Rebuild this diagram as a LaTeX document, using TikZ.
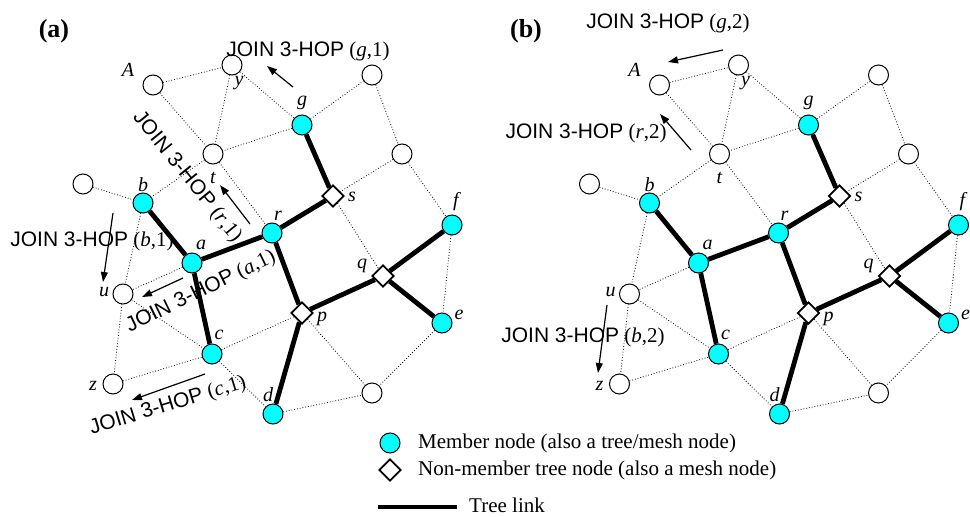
\documentclass[tikz,border=0pt]{standalone}
\usepackage{fontspec}
\setmainfont{Liberation Serif}
\newfontfamily\sfj{Liberation Sans}
\usetikzlibrary{shapes.geometric,arrows.meta}
\definecolor{memcyan}{RGB}{0,255,255}
\begin{document}
\begin{tikzpicture}[x=1pt,y=-1pt,
 mem/.style={circle,draw,fill=memcyan,minimum size=20pt,inner sep=0pt,line width=1pt},
 oth/.style={circle,draw,fill=white,minimum size=20pt,inner sep=0pt,line width=1pt},
 ntn/.style={diamond,draw,fill=white,minimum size=22pt,inner sep=0pt,line width=1.7pt},
 mesh/.style={dotted,line width=0.8pt},
 tree/.style={line width=4.8pt},
 lab/.style={font=\fontsize{20}{20}\selectfont\itshape,inner sep=0pt},
 joinmsg/.style={font=\fontsize{21}{21}\selectfont,inner sep=0pt},
 jarr/.style={line width=1.2pt,-{Triangle[length=10pt,width=7pt]}},
 legtext/.style={font=\fontsize{21}{21}\selectfont,inner sep=0pt,anchor=west},
 panel/.style={font=\fontsize{26}{26}\selectfont\bfseries,inner sep=0pt},
]
\useasboundingbox (0,0) rectangle (970,517);
\foreach \P/\dx in {L/0,R/506.5}{
\begin{scope}[xshift=\dx pt]
 \node[oth] (\P A) at (153,85) {};
 \node[oth] (\P y) at (232,65) {};
 \node[oth] (\P TR) at (372,75) {};
 \node[mem] (\P g) at (302,125) {};
 \node[oth] (\P t) at (213,154) {};
 \node[oth] (\P MR) at (402,154) {};
 \node[oth] (\P L) at (83,184) {};
 \node[mem] (\P b) at (143,203) {};
 \node[ntn] (\P s) at (333,196) {};
 \node[mem] (\P f) at (452,225) {};
 \node[mem] (\P r) at (272,233) {};
 \node[mem] (\P a) at (192,263) {};
 \node[ntn] (\P q) at (383,276) {};
 \node[oth] (\P u) at (123,294) {};
 \node[ntn] (\P p) at (302,313) {};
 \node[mem] (\P e) at (442,323) {};
 \node[mem] (\P c) at (212,354) {};
 \node[oth] (\P z) at (113,384) {};
 \node[oth] (\P BR) at (372,393) {};
 \node[mem] (\P d) at (273,414) {};
 % mesh links
 \draw[mesh] (\P A) -- (\P y);
 \draw[mesh] (\P A) -- (\P t);
 \draw[mesh] (\P y) -- (\P t);
 \draw[mesh] (\P y) -- (\P g);
 \draw[mesh] (\P g) -- (\P TR);
 \draw[mesh] (\P g) -- (\P t);
 \draw[mesh] (\P TR) -- (\P MR);
 \draw[mesh] (\P MR) -- (\P s);
 \draw[mesh] (\P MR) -- (\P f);
 \draw[mesh] (\P t) -- (\P b);
 \draw[mesh] (\P t) -- (\P r);
 \draw[mesh] (\P L) -- (\P b);
 \draw[mesh] (\P b) -- (\P u);
 \draw[mesh] (\P a) -- (\P u);
 \draw[mesh] (\P u) -- (\P c);
 \draw[mesh] (\P u) -- (\P z);
 \draw[mesh] (\P z) -- (\P c);
 \draw[mesh] (\P c) -- (\P p);
 \draw[mesh] (\P c) -- (\P d);
 \draw[mesh] (\P s) -- (\P q);
 \draw[mesh] (\P f) -- (\P e);
 \draw[mesh] (\P p) -- (\P BR);
 \draw[mesh] (\P e) -- (\P BR);
 \draw[mesh] (\P d) -- (\P BR);
 % tree links
 \draw[tree] (\P g) -- (\P s);
 \draw[tree] (\P s) -- (\P r);
 \draw[tree] (\P r) -- (\P a);
 \draw[tree] (\P a) -- (\P b);
 \draw[tree] (\P a) -- (\P c);
 \draw[tree] (\P r) -- (\P p);
 \draw[tree] (\P p) -- (\P d);
 \draw[tree] (\P p) -- (\P q);
 \draw[tree] (\P q) -- (\P f);
 \draw[tree] (\P q) -- (\P e);
 % node labels
 \path (\P A) ++(-25,-15) node[lab] {A};
 \path (\P y) ++(7,18) node[lab] {y};
 \path (\P g) ++(0,-22) node[lab] {g};
 \path (\P t) ++(0,24) node[lab] {t};
 \path (\P b) ++(0,-18) node[lab] {b};
 \path (\P a) ++(9,-18) node[lab] {a};
 \path (\P r) ++(6,-17) node[lab] {r};
 \path (\P s) ++(19,1) node[lab] {s};
 \path (\P f) ++(4,-23) node[lab] {f};
 \path (\P q) ++(-21,-10) node[lab] {q};
 \path (\P e) ++(17,-8) node[lab] {e};
 \path (\P p) ++(20,6) node[lab] {p};
 \path (\P u) ++(-19,-2) node[lab] {u};
 \path (\P c) ++(7,-19) node[lab] {c};
 \path (\P z) ++(-20,2) node[lab] {z};
 \path (\P d) ++(-5,-19) node[lab] {d};
\end{scope}}
% panel titles
\node[panel] (ta) at (54,31) {(a)};
\node[panel] (tb) at (526,31) {(b)};
% JOIN messages, panel (a)
\node[joinmsg] (jg1) at (308,51) {{\sfj JOIN 3-HOP} (\textit{g},1)};
\node[joinmsg,rotate=-51] (jr1) at (187,177) {{\sfj JOIN 3-HOP} (\textit{r},1)};
\node[joinmsg] (jb1) at (92,241) {{\sfj JOIN 3-HOP} (\textit{b},1)};
\node[joinmsg,rotate=26] (ja1) at (201,292) {{\sfj JOIN 3-HOP} (\textit{a},1)};
\node[joinmsg,rotate=17] (jc1) at (168,406) {{\sfj JOIN 3-HOP} (\textit{c},1)};
\coordinate (g1s) at (293,87); \coordinate (g1e) at (267,66);
\coordinate (r1s) at (250,224); \coordinate (r1e) at (220,185);
\coordinate (b1s) at (113,213); \coordinate (b1e) at (103,282);
\coordinate (a1s) at (183,278); \coordinate (a1e) at (142,297);
\coordinate (c1s) at (205,374); \coordinate (c1e) at (132,400);
\draw[jarr] (g1s) -- (g1e);
\draw[jarr] (r1s) -- (r1e);
\draw[jarr] (b1s) -- (b1e);
\draw[jarr] (a1s) -- (a1e);
\draw[jarr] (c1s) -- (c1e);
% JOIN messages, panel (b)
\node[joinmsg] (jg2) at (668,23) {{\sfj JOIN 3-HOP} (\textit{g},2)};
\node[joinmsg] (jr2) at (586,133) {{\sfj JOIN 3-HOP} (\textit{r},2)};
\node[joinmsg] (jb2) at (583,337) {{\sfj JOIN 3-HOP} (\textit{b},2)};
\coordinate (g2s) at (723,50); \coordinate (g2e) at (668,62);
\coordinate (r2s) at (691,150); \coordinate (r2e) at (660,114);
\coordinate (b2s) at (607,305); \coordinate (b2e) at (598,373);
\draw[jarr] (g2s) -- (g2e);
\draw[jarr] (r2s) -- (r2e);
\draw[jarr] (b2s) -- (b2e);
% legend
\node[mem] (lm) at (390,443) {};
\node[legtext] (lmt) at (418,443) {Member node (also a tree/mesh node)};
\node[ntn] (ln) at (390,470) {};
\node[legtext] (lnt) at (418,470) {Non-member tree node (also a mesh node)};
\coordinate (lt1) at (378,507); \coordinate (lt2) at (457,507);
\draw[tree] (lt1) -- (lt2);
\node[legtext] (ltt) at (469,505) {Tree link};
\end{tikzpicture}
\end{document}
